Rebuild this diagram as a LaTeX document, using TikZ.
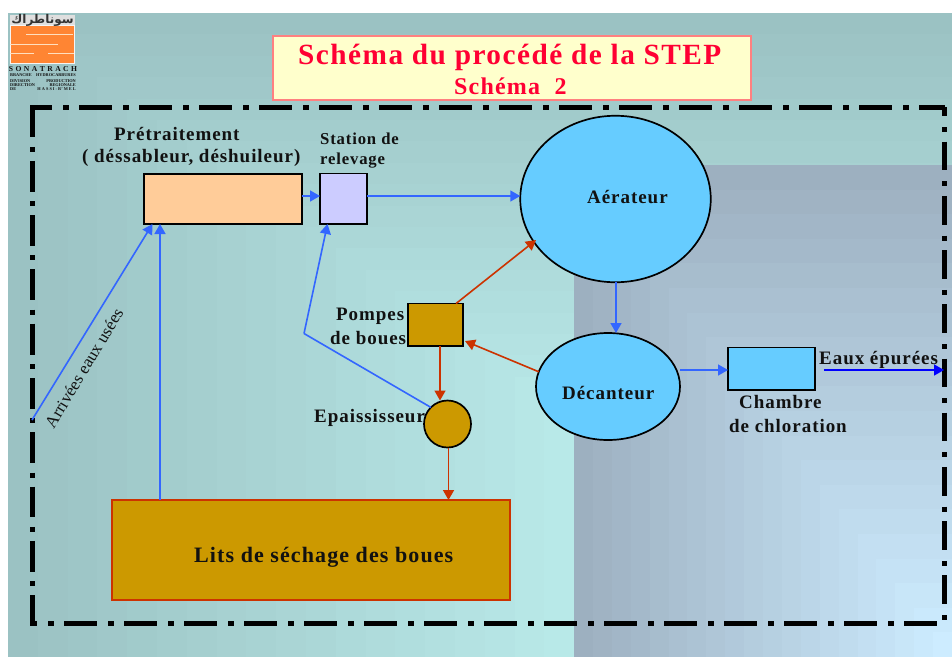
\documentclass[tikz,border=0pt]{standalone}
\usepackage{fontspec}
\usetikzlibrary{arrows.meta,calc,shapes.geometric}
\setmainfont{Liberation Serif}
\newfontfamily\spaced[LetterSpace=5]{Liberation Serif}
\newfontfamily\spacedwide[LetterSpace=7]{Liberation Serif}
\newfontfamily\arabicfont[Script=Arabic]{DejaVu Sans}
\TeXXeTstate=1
\definecolor{bgA}{HTML}{9BC2C3}
\definecolor{bgB}{HTML}{BAEBEA}
\definecolor{bgC}{HTML}{9DB0C0}
\definecolor{bgD}{HTML}{CDECFF}
\definecolor{ink}{HTML}{111111}
\definecolor{flowblue}{HTML}{3366FF}
\definecolor{flowred}{HTML}{CC3300}
\definecolor{sludge}{HTML}{CC9900}
\definecolor{water}{HTML}{66CCFF}
\definecolor{titlered}{HTML}{FF0033}
\tikzset{
  x=1pt,y=-1pt,
  unit/.style={draw=black,line width=1.7pt,inner sep=0pt,outer sep=0pt},
  lbl/.style={anchor=base west,inner sep=0pt,text=ink,font=\spaced\bfseries\fontsize{19}{22}\selectfont},
  lblsm/.style={lbl,font=\spaced\bfseries\fontsize{16.7}{20}\selectfont},
  blueflow/.style={draw=flowblue,line width=1.6pt,-{Triangle[length=10pt,width=11pt]}},
  redflow/.style={draw=flowred,line width=1.6pt,-{Triangle[length=10pt,width=11pt]}},
  frameline/.style={draw=black,line width=5pt},
  logotiny/.style={inner sep=0pt,text=ink,font=\bfseries\fontsize{4.3}{4.3}\selectfont},
}
\begin{document}
\begin{tikzpicture}
\useasboundingbox (0,0) rectangle (952,657);
% background
\foreach \i in {0,...,19}{
  \pgfmathsetmacro{\p}{100*\i/19}
  \pgfmathsetmacro{\xa}{8+29.8*\i}
  \pgfmathsetmacro{\ya}{13+21.4*\i}
  \colorlet{tone}{bgB!\p!bgA}
  \fill[tone] (\xa,\ya) rectangle (952,657);
}
\foreach \i in {0,...,19}{
  \pgfmathsetmacro{\p}{100*\i/19}
  \pgfmathsetmacro{\xa}{574+18.9*\i}
  \pgfmathsetmacro{\ya}{165+24.6*\i}
  \colorlet{tone}{bgD!\p!bgC}
  \fill[tone] (\xa,\ya) rectangle (952,657);
}
% logo
\fill[white!92!gray] (10,15) rectangle (75,64);
\fill[white!75!gray] (10,15) rectangle (75,25);
\fill[fill={rgb,255:red,255;green,133;blue,51}] (11,25.5) rectangle (74,63);
\fill[white!75!orange] (26,33.5) rectangle (73,35);
\fill[white!75!orange] (10,43.5) rectangle (58,45);
\fill[white!75!orange] (10,52.5) rectangle (34,54);
\fill[white!75!orange] (48,52.5) rectangle (74,54);
\node[inner sep=0pt,text=black!80] (logoar) at (42.5,20) {\arabicfont\bfseries\fontsize{12}{12}\selectfont\beginR سوناطراك\endR};
\node[inner sep=0pt,text=ink,anchor=base,font=\spacedwide\bfseries\fontsize{7.6}{8}\selectfont] (logoname) at (43,71.5) {S O N A T R A C H};
\node[logotiny,anchor=base west] (lb1) at (10,76.5) {BRANCHE};
\node[logotiny,anchor=base east] (lb2) at (76,76.5) {HYDROCARBURES};
\node[logotiny,anchor=base west] (lb3) at (10,82.5) {DIVISION};
\node[logotiny,anchor=base east] (lb4) at (76,82.5) {PRODUCTION};
\node[logotiny,anchor=base west] (lb5) at (10,86.5) {DIRECTION};
\node[logotiny,anchor=base east] (lb6) at (76,86.5) {REGIONALE};
\node[logotiny,anchor=base west] (lb7) at (10,90.5) {DE};
\node[logotiny,anchor=base east] (lb8) at (76,90.5) {H A S S I - R' M E L};
% title
\node[draw={rgb,255:red,255;green,128;blue,128},fill={rgb,255:red,255;green,255;blue,204},line width=2pt,minimum width=478pt,minimum height=64pt,inner sep=0pt,outer sep=0pt] (titlebox) at (511.5,68) {};
\node[lbl,text=titlered,font=\spaced\bfseries\fontsize{29.3}{32}\selectfont] (title1) at (298,64) {Schéma du procédé de la STEP};
\node[lbl,text=titlered,font=\spaced\bfseries\fontsize{24}{27}\selectfont] (title2) at (454,94) {Schéma\ \ 2};
% frame
\draw[frameline,dash pattern=on 33pt off 11pt on 5.5pt off 10.5pt,dash phase=11pt] (30,107.5) -- (945,107.5);
\draw[frameline,dash pattern=on 30.8pt off 9.5pt on 5pt off 9pt] (32.3,106.5) -- (32.3,626);
\draw[frameline,dash pattern=on 33pt off 11pt on 5.5pt off 10.5pt,dash phase=29pt] (33,623.3) -- (937,623.3);
\draw[frameline,dash pattern=on 28.7pt off 11pt on 5pt off 9.5pt,dash phase=19.5pt] (944.3,107) -- (944.3,620);
% units
\node[unit,fill={rgb,255:red,255;green,204;blue,153},minimum width=158pt,minimum height=50pt] (pret) at (223,199) {};
\node[unit,fill={rgb,255:red,204;green,204;blue,255},minimum width=47pt,minimum height=50.5pt] (station) at (343.5,198.7) {};
\node[unit,ellipse,fill=water,minimum width=190.5pt,minimum height=166.5pt] (aer) at (615.5,199) {};
\node[unit,ellipse,fill=water,minimum width=144pt,minimum height=107pt] (dec) at (608,386.5) {};
\node[unit,fill=water,minimum width=87pt,minimum height=42.5pt] (chlor) at (771.5,368.8) {};
\node[unit,fill=sludge,minimum width=55pt,minimum height=42.5pt] (pompes) at (435.5,324.8) {};
\node[unit,circle,fill=sludge,minimum size=47pt] (epais) at (447.5,424) {};
\node[draw=flowred,fill=sludge,line width=1.6pt,minimum width=398pt,minimum height=100pt,inner sep=0pt,outer sep=0pt] (lits) at (311,550) {};
\coordinate (arrivee) at (32,420);
\coordinate (sortie) at (944,370);
\coordinate (coude) at (304,333.5);
\coordinate (eauxdep) at (824,370);
% flows
\draw[blueflow] (arrivee) -- ($(pret.south west)+(8.5,0)$);
\draw[blueflow] ($(lits.north west)+(48,0)$) -- ($(pret.south west)+(16,0)$);
\draw[blueflow] (pret.east |- 0,196) -- (station.west |- 0,196);
\draw[blueflow] (station.east |- 0,196) -- (aer.west |- 0,196);
\draw[draw=flowblue,line width=1.6pt] (epais.135) -- (coude);
\draw[blueflow] (coude) -- ($(station.south west)+(7.5,0)$);
\draw[redflow] ($(pompes.north west)+(48,0)$) -- ($(aer.center)+(-79.5,41)$);
\draw[redflow] (dec.168) -- ($(pompes.south east)+(2,-5)$);
\draw[redflow] ($(pompes.south west)+(32,0)$) -- (440,400.5);
\draw[redflow] ($(epais.south)+(1,0)$) -- ($(lits.north -| epais.south)+(1,0)$);
\draw[blueflow] (aer.south -| 616,0) -- (dec.north -| 616,0);
\draw[blueflow] (680,370) -- (chlor.west |- 0,370);
\draw[draw=blue,line width=1.6pt,-{Triangle[length=10pt,width=11pt]}] (eauxdep) -- (sortie);
% labels
\node[lbl] (l1) at (114,140) {Prétraitement};
\node[lbl] (l2) at (82,162) {( déssableur, déshuileur)};
\node[lblsm] (l3) at (320,144) {Station de};
\node[lblsm] (l4) at (320,164) {relevage};
\node[lbl] (l5) at (587,203.5) {Aérateur};
\node[lbl] (l6) at (336,320) {Pompes};
\node[lbl] (l7) at (330,344) {de boues};
\node[lbl] (l8) at (314,422) {Epaississeur};
\node[lbl] (l9) at (562,399) {Décanteur};
\node[lbl] (l10) at (739,408) {Chambre};
\node[lbl] (l11) at (729,432) {de chloration};
\node[lbl] (l12) at (819,364) {Eaux épurées};
\node[lbl,font=\spaced\bfseries\fontsize{22}{26}\selectfont] (l13) at (194,562) {Lits de séchage des boues};
\node[inner sep=0pt,text=ink,rotate=59,font=\fontsize{17}{20}\selectfont] (l14) at (84,368) {Arrivées eaux usées};
\end{tikzpicture}
\end{document}
